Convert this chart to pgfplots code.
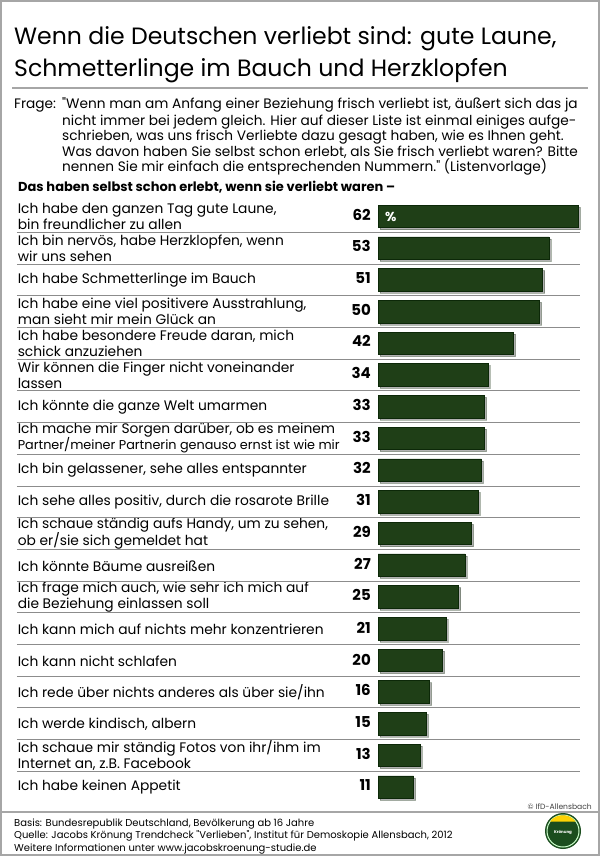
\documentclass[border=0pt]{standalone}
\usepackage{fontspec}
\setmainfont{Poppins}[Ligatures=TeXOff]
\usepackage{pgfplots}
\pgfplotsset{compat=1.18}
\usetikzlibrary{shadows}
\definecolor{barfill}{HTML}{1F3F17}
\definecolor{bardraw}{HTML}{0C2808}
\definecolor{sep}{HTML}{8C8C8C}
\definecolor{frame}{HTML}{A6A6A6}
\definecolor{logogreen}{HTML}{1B4D1E}
\newcommand\q{"}
\newcommand\lbl[2]{\makebox[353pt][l]{\parbox[c]{365pt}{\raggedright #1}}\llap{\fontsize{15}{16}\selectfont\bfseries #2}}
\begin{document}
\begin{tikzpicture}
\path[use as bounding box] (0,0) rectangle (600pt,-856pt);
\draw[frame, line width=2pt] (1pt,-1pt) rectangle (599pt,-855pt);
% title
\node[anchor=base west, inner sep=0pt, font=\fontsize{23.6}{28}\selectfont] at (14pt,-45pt) {Wenn die Deutschen verliebt sind: gute Laune,};
\node[anchor=base west, inner sep=0pt, font=\fontsize{23.6}{28}\selectfont] at (14pt,-77pt) {Schmetterlinge im Bauch und Herzklopfen};
\draw[frame, line width=1.2pt] (12pt,-88pt) -- (588pt,-88pt);
% question
\begin{scope}[every node/.style={anchor=base west, inner sep=0pt, font=\fontsize{13.7}{15}\selectfont}]
\node at (14pt,-109pt) {Frage:};
\node at (62pt,-109pt) {\q Wenn man am Anfang einer Beziehung frisch verliebt ist, äußert sich das ja};
\node at (62pt,-125pt) {nicht immer bei jedem gleich. Hier auf dieser Liste ist einmal einiges aufge-};
\node at (62pt,-140.5pt) {schrieben, was uns frisch Verliebte dazu gesagt haben, wie es Ihnen geht.};
\node at (62pt,-156pt) {Was davon haben Sie selbst schon erlebt, als Sie frisch verliebt waren? Bitte};
\node at (62pt,-171.5pt) {nennen Sie mir einfach die entsprechenden Nummern.\q{} (Listenvorlage)};
\end{scope}
\node[anchor=base west, inner sep=0pt, font=\fontsize{13}{15}\selectfont\bfseries] at (18pt,-191pt) {Das haben selbst schon erlebt, wenn sie verliebt waren –};
% chart
\begin{axis}[
  at={(378pt,-200.65pt)}, anchor=north west,
  scale only axis, width=210pt, height=602.3pt,
  xmin=0, xmax=65, ymin=0.5, ymax=19.5, y dir=reverse,
  xbar, bar width=22.5pt,
  axis line style={draw=none},
  xtick=\empty, ytick={1,...,19}, major tick length=0pt,
  ytick style={draw=none},
  yticklabel style={anchor=east, inner sep=0pt, xshift=-7pt, font=\fontsize{13.8}{16}\selectfont},
  yticklabels={
    {\lbl{Ich habe den ganzen Tag gute Laune,\\bin freundlicher zu allen}{62}},
    {\lbl{Ich bin nervös, habe Herzklopfen, wenn\\wir uns sehen}{53}},
    {\lbl{Ich habe Schmetterlinge im Bauch}{51}},
    {\lbl{Ich habe eine viel positivere Ausstrahlung,\\man sieht mir mein Glück an}{50}},
    {\lbl{Ich habe besondere Freude daran, mich\\schick anzuziehen}{42}},
    {\lbl{Wir können die Finger nicht voneinander\\lassen}{34}},
    {\lbl{Ich könnte die ganze Welt umarmen}{33}},
    {\lbl{Ich mache mir Sorgen darüber, ob es meinem\\{\fontsize{12.8}{16}\selectfont Partner/meiner Partnerin genauso ernst ist wie mir}}{33}},
    {\lbl{Ich bin gelassener, sehe alles entspannter}{32}},
    {\lbl{Ich sehe alles positiv, durch die rosarote Brille}{31}},
    {\lbl{Ich schaue ständig aufs Handy, um zu sehen,\\ob er/sie sich gemeldet hat}{29}},
    {\lbl{Ich könnte Bäume ausreißen}{27}},
    {\lbl{Ich frage mich auch, wie sehr ich mich auf\\die Beziehung einlassen soll}{25}},
    {\lbl{Ich kann mich auf nichts mehr konzentrieren}{21}},
    {\lbl{Ich kann nicht schlafen}{20}},
    {\lbl{Ich rede über nichts anderes als über sie/ihn}{16}},
    {\lbl{Ich werde kindisch, albern}{15}},
    {\lbl{Ich schaue mir ständig Fotos von ihr/ihm im\\Internet an, z.B. Facebook}{13}},
    {\lbl{Ich habe keinen Appetit}{11}}
  },
  clip=false]
\pgfplotsinvokeforeach{1,...,18}{\draw[sep, line width=0.9pt] ([xshift=-361pt]axis cs:0,#1.5) -- (axis cs:62.5,#1.5);}
\addplot[fill=barfill, draw=bardraw, line width=0.6pt,
  drop shadow={shadow xshift=2pt, shadow yshift=-2pt, fill=black, opacity=0.3}]
  coordinates {(62,1) (53,2) (51,3) (50,4) (42,5) (34,6) (33,7) (33,8) (32,9) (31,10) (29,11) (27,12) (25,13) (21,14) (20,15) (16,16) (15,17) (13,18) (11,19)};
\node[anchor=west, text=white, inner sep=0pt, font=\bfseries\fontsize{13}{13}\selectfont] at ([xshift=7pt]axis cs:0,1) {\%};
\end{axis}
% footer
\node[anchor=base east, inner sep=0pt, font=\fontsize{7.6}{9}\selectfont, text=black!75] at (592pt,-809pt) {© IfD-Allensbach};
\draw[frame, line width=1.2pt] (0pt,-812pt) -- (600pt,-812pt);
\begin{scope}[every node/.style={anchor=base west, inner sep=0pt, font=\fontsize{10}{12}\selectfont}]
\node at (14pt,-826pt) {Basis: Bundesrepublik Deutschland, Bevölkerung ab 16 Jahre};
\node at (14pt,-838.5pt) {Quelle: Jacobs Krönung Trendcheck \q Verlieben\q, Institut für Demoskopie Allensbach, 2012};
\node at (14pt,-851pt) {Weitere Informationen unter www.jacobskroenung-studie.de};
\end{scope}
% logo
\fill[logogreen] (563pt,-831pt) circle (18pt);
\draw[white!80!green, line width=1pt] (563pt,-831pt) circle (16pt);
\fill[yellow!70!orange] (550pt,-821.5pt) arc (143:37:16pt) -- cycle;
\node[font=\fontsize{4}{4}\selectfont\bfseries, text=white] at (563pt,-832pt) {Krönung};
\end{tikzpicture}
\end{document}
